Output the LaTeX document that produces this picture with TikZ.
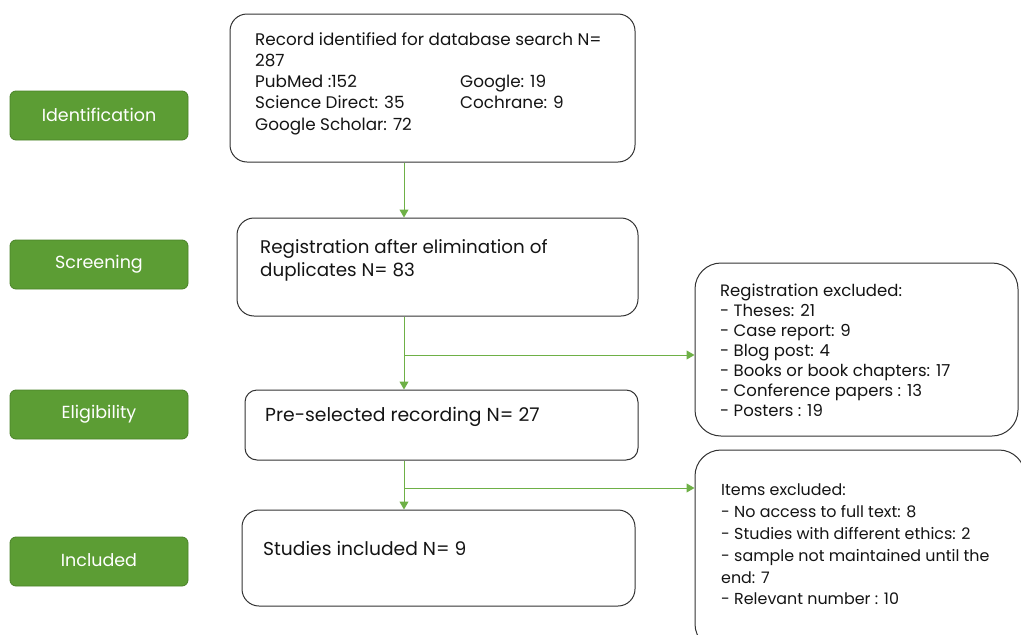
\documentclass[tikz,border=0pt]{standalone}
\usepackage{fontspec}
\setmainfont{Poppins}
\usetikzlibrary{arrows.meta}
\definecolor{gfill}{RGB}{92,157,52}
\definecolor{gdraw}{RGB}{74,130,40}
\definecolor{garrow}{RGB}{110,176,70}
\definecolor{tx}{RGB}{20,20,20}
\tikzset{
  stagebox/.style={draw=gdraw, fill=gfill, rounded corners=6pt, line width=0.8pt,
    minimum width=178pt, minimum height=49pt, text=white, font=\fontsize{17.5}{20}\selectfont, inner sep=0pt},
  wbox/.style={draw=black!80, rounded corners=17pt, line width=1pt, inner sep=0pt},
  txt/.style={anchor=north west, align=left, inner sep=0pt, text=tx},
  flow/.style={draw=garrow, line width=1pt, -{Triangle[width=9pt,length=8pt]}},
  flowline/.style={draw=garrow, line width=1pt}
}
\begin{document}
\begin{tikzpicture}[x=1pt,y=-1pt]
\useasboundingbox (0,0) rectangle (1021,635);
% stage labels
\node[stagebox] (s1) at (99,115.5) {\raisebox{2pt}{Identification}};
\node[stagebox] (s2) at (99,264.5) {\raisebox{2pt}{Screening}};
\node[stagebox] (s3) at (99,414.5) {\raisebox{2pt}{Eligibility}};
\node[stagebox] (s4) at (99,561.5) {\raisebox{2pt}{Included}};
% main boxes
\node[wbox, minimum width=405pt, minimum height=148pt] (b1) at (432.5,88) {};
\node[wbox, minimum width=401pt, minimum height=98pt] (b2) at (437.5,267) {};
\node[wbox, minimum width=393pt, minimum height=70pt, rounded corners=12pt] (b3) at (441.5,425) {};
\node[wbox, minimum width=393pt, minimum height=96pt] (b4) at (438.5,558) {};
\node[wbox, minimum width=323pt, minimum height=173pt, rounded corners=26pt] (e1) at (856.5,349.5) {};
\node[wbox, minimum width=330pt, minimum height=200pt, rounded corners=26pt] (e2) at (860,550) {};
% texts box 1
\begin{scope}[font=\fontsize{16.8}{21.3}\selectfont]
\node[txt] (t1) at (255,32) {Record identified for database search N=\\287};
\node[txt] (t2) at (255,75) {PubMed :152\\Science Direct: 35\\Google Scholar: 72};
\node[txt] (t3) at (460,75) {Google: 19\\Cochrane: 9};
\end{scope}
\node[txt, font=\fontsize{18.3}{23}\selectfont] (t4) at (260,239) {Registration after elimination of\\duplicates N= 83};
\node[txt, font=\fontsize{18.8}{23}\selectfont] (t5) at (265,407) {Pre-selected recording N= 27};
\node[txt, font=\fontsize{18.7}{23}\selectfont] (t6) at (263,541) {Studies included N= 9};
\node[txt, font=\fontsize{16.5}{20}\selectfont] (t7) at (720,284) {Registration excluded:\\- Theses: 21\\- Case report: 9\\- Blog post: 4\\- Books or book chapters: 17\\- Conference papers : 13\\- Posters : 19};
\node[txt, font=\fontsize{15.9}{21.8}\selectfont] (t8) at (721,484) {Items excluded:\\- No access to full text: 8\\- Studies with different ethics: 2\\- sample not maintained until the\\end: 7\\- Relevant number : 10};
% connectors
\coordinate (j1) at (404,355);
\coordinate (j2) at (404,488);
\draw[flow] (b1.south -| j1) -- (b2.north -| j1);
\draw[flow] (b2.south -| j1) -- (b3.north -| j1);
\draw[flow] (j1) -- (e1.west |- j1);
\draw[flow] (b3.south -| j2) -- (b4.north -| j2);
\draw[flow] (j2) -- (e2.west |- j2);
\end{tikzpicture}
\end{document}
